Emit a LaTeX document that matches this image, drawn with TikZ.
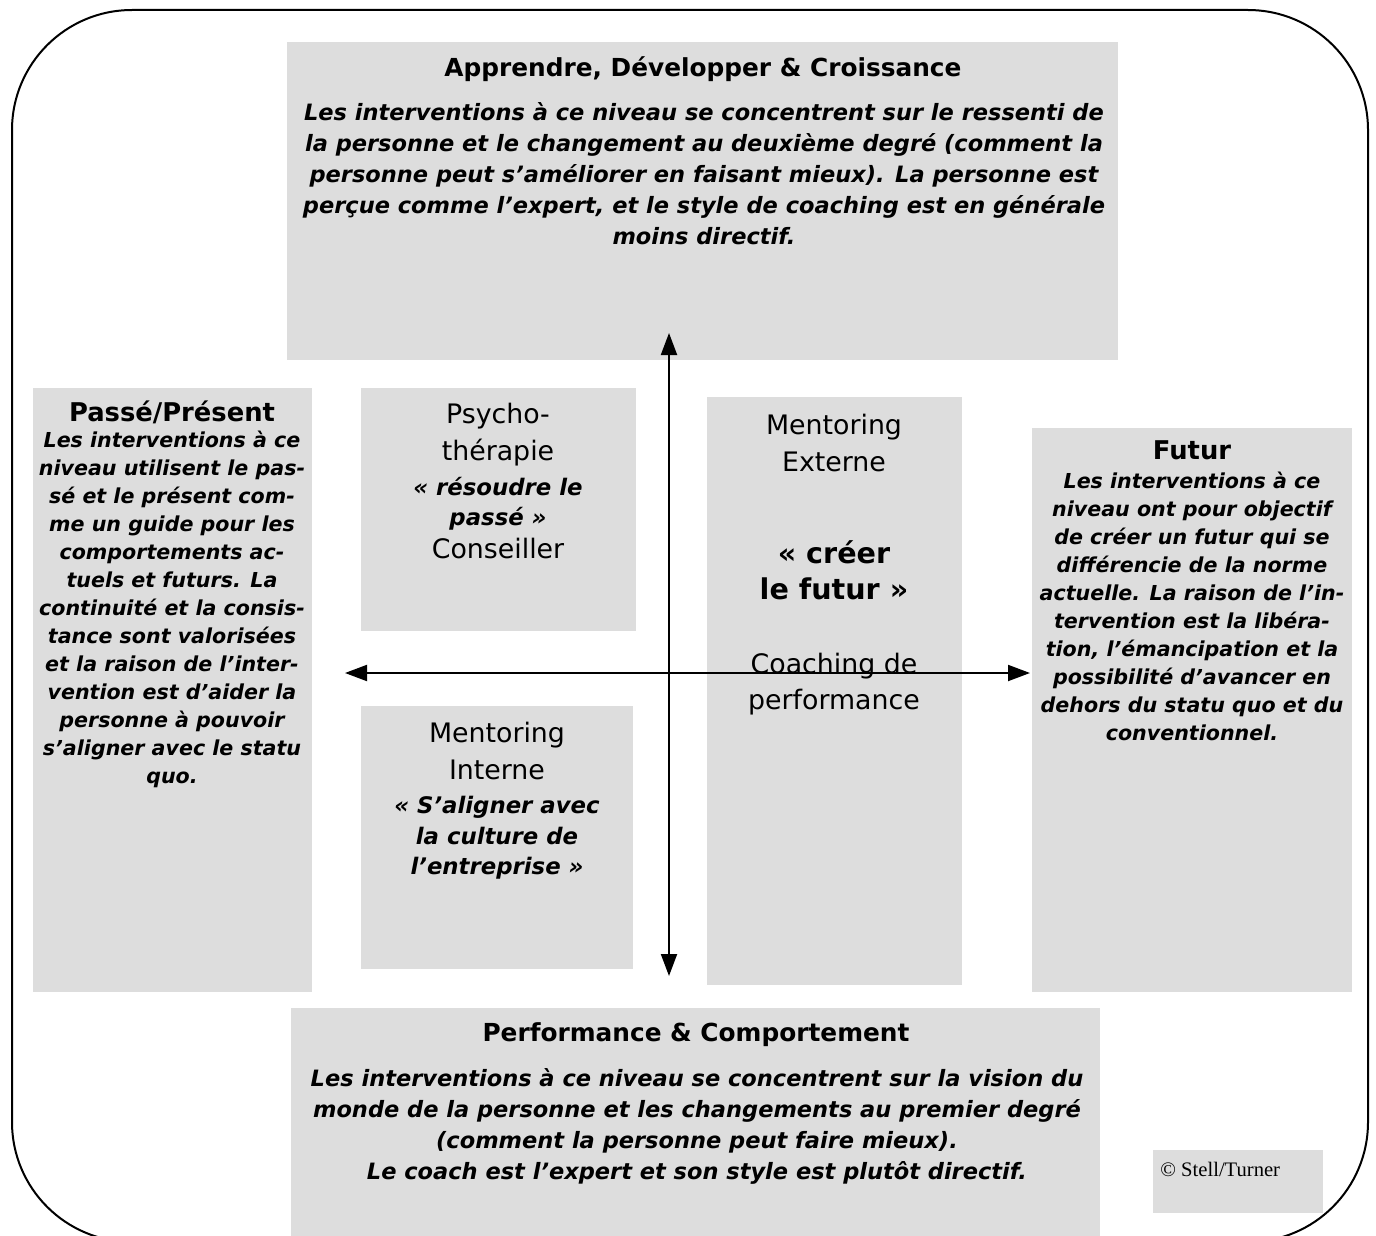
\documentclass[tikz,border=0pt]{standalone}
\usepackage{fontspec}
\setmainfont{DejaVu Sans}
\newfontfamily\copyfont{Liberation Serif}
\usetikzlibrary{positioning,calc,arrows.meta}

\definecolor{boxgray}{RGB}{221,221,221}
\newcommand{\bi}[1]{{\fontsize{11.4}{17.5}\selectfont\bfseries\itshape #1}}
\newcommand{\bq}[1]{{\fontsize{14.3}{17.5}\selectfont\bfseries #1}}
\tikzset{
  panel/.style={fill=boxgray},
  head/.style={font=\bfseries\fontsize{12.4}{14}\selectfont, inner sep=0pt, anchor=north},
  sidehead/.style={head, font=\bfseries\fontsize{12.9}{14}\selectfont},
  wide/.style={font=\bfseries\itshape\fontsize{11.25}{15.5}\selectfont, align=center, inner sep=0pt, anchor=north},
  side/.style={font=\bfseries\itshape\fontsize{10.3}{14}\selectfont, align=center, inner sep=0pt, anchor=north},
  quad/.style={font=\fontsize{13.4}{18.2}\selectfont, align=center, inner sep=0pt, anchor=north},
  axis/.style={line width=1pt, {Triangle[length=11pt,width=8pt]}-{Triangle[length=11pt,width=8pt]}}
}

\begin{document}
\begin{tikzpicture}[x=0.5pt,y=-0.5pt]
  \useasboundingbox (0,0) rectangle (1376,1236);
  % frame
  \draw[line width=1pt, rounded corners=60pt] (12,10) rectangle (1368,1242);

  % grey panels
  \path[panel] (287,42) rectangle (1118,360);
  \path[panel] (33,388) rectangle (312,992);
  \path[panel] (361,388) rectangle (636,631);
  \path[panel] (361,706) rectangle (633,969);
  \path[panel] (707,397) rectangle (962,985);
  \path[panel] (1032,428) rectangle (1352,992);
  \path[panel] (291,1008) rectangle (1100,1240);
  \path[panel] (1153,1150) rectangle (1323,1213);

  % top
  \node[head] (apprTitle) at (703,56) {Apprendre, Développer \& Croissance};
  \node[wide] (apprText) at (704,102) {Les interventions à ce niveau se concentrent sur le ressenti de\\
    la personne et le changement au deuxième degré (comment la\\
    personne peut s’améliorer en faisant mieux). La personne est\\
    perçue comme l’expert, et le style de coaching est en générale\\
    moins directif.};

  % left
  \node[sidehead] (passTitle) at (172,400) {Passé/Présent};
  \node[side] (passText) at (172,431) {Les interventions à ce\\ niveau utilisent le pas-\\
    sé et le présent com-\\ me un guide pour les\\ comportements ac-\\
    tuels et futurs. La\\ continuité et la consis-\\ tance sont valorisées\\
    et la raison de l’inter-\\ vention est d’aider la\\ personne à pouvoir\\
    s’aligner avec le statu\\ quo.};

  % right
  \node[sidehead] (futTitle) at (1192,440) {Futur};
  \node[side] (futText) at (1192,472) {Les interventions à ce\\ niveau ont pour objectif\\
    de créer un futur qui se\\ différencie de la norme\\ actuelle. La raison de l’in-\\
    tervention est la libéra-\\ tion, l’émancipation et la\\ possibilité d’avancer en\\
    dehors du statu quo et du\\ conventionnel.};

  % quadrants
  \node[quad] (psycho) at (498,403) {Psycho-\\ thérapie\\[-0.6pt] \bi{« résoudre le}\\[-3.2pt]
    \bi{passé »}\\[-1.7pt] Conseiller};
  \node[quad] (interne) at (497,722) {Mentoring\\ Interne\\[-1.2pt] \bi{« S’aligner avec}\\[-2.7pt]
    \bi{la culture de}\\[-3.2pt] \bi{l’entreprise »}};
  \node[quad] (externe) at (834,414) {Mentoring\\ Externe\\[28pt]
    \bq{« créer}\\ \bq{le futur »}\\[18.5pt] Coaching de\\ performance};

  % bottom
  \node[head] (perfTitle) at (696,1022) {Performance \& Comportement};
  \node[wide] (perfText) at (697,1068) {Les interventions à ce niveau se concentrent sur la vision du\\
    monde de la personne et les changements au premier degré\\
    (comment la personne peut faire mieux).\\
    Le coach est l’expert et son style est plutôt directif.};

  \node[font=\copyfont\fontsize{10.3}{12}\selectfont, anchor=west, inner sep=0pt] (copy) at (1160,1169) {© Stell/Turner};

  % axes
  \coordinate (up) at (669,333);
  \coordinate (down) at (669,976);
  \coordinate (past) at (345,673);
  \coordinate (future) at (1030,673);
  \draw[axis] (up) -- (down);
  \draw[axis] (past) -- (future);
\end{tikzpicture}
\end{document}
